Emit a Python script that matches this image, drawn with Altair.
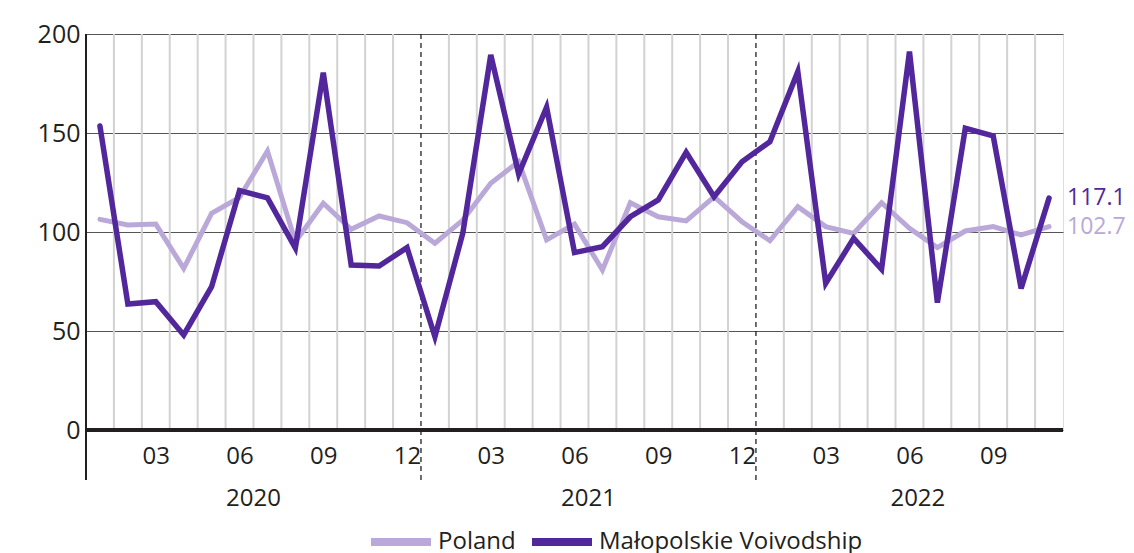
import altair as alt
import pandas as pd

# ---- data ----
months = [f"{y}-{m:02d}" for y in (2020, 2021, 2022) for m in range(1, 13)][:35]
poland = [106.4, 103.5, 104.0, 81.6, 109.4, 117.5, 140.9, 95.1, 114.5, 101.4, 108.1, 104.7,
          94.3, 106.0, 124.6, 135.5, 96.0, 104.0, 80.8, 114.8, 107.7, 105.6, 117.8, 105.2,
          95.6, 112.8, 102.7, 99.3, 114.8, 101.9, 92.1, 100.5, 102.7, 98.5, 102.7]
malopolskie = [153.5, 63.6, 64.8, 48.0, 72.4, 120.9, 117.2, 91.9, 180.5, 83.3, 82.8, 92.1,
               47.1, 99.5, 189.4, 129.3, 163.0, 89.6, 92.6, 107.7, 116.2, 140.2, 117.8, 135.5,
               145.6, 181.0, 74.1, 96.8, 81.2, 191.1, 64.3, 152.4, 148.5, 71.5, 117.1]
series_names = ["Poland", "Małopolskie Voivodship"]
series_colors = ["#b9a8d8", "#52279b"]
shown_months = ["03", "06", "09", "12"]
years = ["2020", "2021", "2022"]
year_centers = [5.5, 17.5, 29.3]
y_ticks = [0, 50, 100, 150, 200]

W, H = 977, 396
DARK = "#231f20"
FONT = "Open Sans"

n = len(months)
idx = list(range(n))
mm = [m[5:] for m in months]
yy = [m[:4] for m in months]

df = pd.DataFrame({
    "i": idx * 2,
    "month": months * 2,
    "value": poland + malopolskie,
    "series": [series_names[0]] * n + [series_names[1]] * n,
})

tick_vals = [i for i in idx if mm[i] in shown_months]
label_expr = "[" + ",".join(f"'{m}'" for m in mm) + "][datum.value]"

bounds = pd.DataFrame({"b": [i + 0.5 for i in idx[:-1]],
                       "yearb": [yy[i] != yy[i + 1] for i in idx[:-1]]})
year_df = pd.DataFrame({"year": years, "pos": year_centers})
end_df = pd.DataFrame({
    "i": [idx[-1], idx[-1]],
    "value": [poland[-1], malopolskie[-1]],
    "series": series_names,
})

xscale = alt.Scale(domain=[-0.5, n - 0.5], nice=False, zero=False)
yscale = alt.Scale(domain=[0, 200], nice=False)
cscale = alt.Scale(domain=series_names, range=series_colors)

base = alt.Chart(df)

x_enc = alt.X("i:Q", scale=xscale, axis=alt.Axis(
    values=tick_vals, labelExpr=label_expr, grid=False, ticks=False, domain=False,
    labelFontSize=24, labelPadding=14, title=None, labelColor=DARK, labelFont=FONT))
y_enc = alt.Y("value:Q", scale=yscale, axis=alt.Axis(
    values=y_ticks, grid=True, gridColor="#555555", gridWidth=1, domain=False, ticks=False,
    labelFontSize=25, labelPadding=6, title=None, labelColor=DARK, labelFont=FONT))

month_rules = alt.Chart(bounds).transform_filter("!datum.yearb").mark_rule(
    color="#d2d2d2", strokeWidth=2).encode(
    x=alt.X("b:Q", scale=xscale), y=alt.value(0), y2=alt.value(H))

year_rules = alt.Chart(bounds).transform_filter("datum.yearb").mark_rule(
    color=DARK, strokeWidth=1.3, strokeDash=[5, 4]).encode(
    x=alt.X("b:Q", scale=xscale), y=alt.value(0), y2=alt.value(H + 50))

left_line = alt.Chart(bounds).mark_rule(color=DARK, strokeWidth=1.5).encode(
    x=alt.value(0), y=alt.value(0), y2=alt.value(H + 50))

zero_line = alt.Chart(pd.DataFrame({"v": [0]})).mark_rule(color=DARK, strokeWidth=4).encode(
    y=alt.Y("v:Q", scale=yscale), x=alt.value(0), x2=alt.value(W))

legend = alt.Legend(
    orient="none", legendX=281, legendY=474, direction="horizontal", title=None,
    symbolType="stroke", symbolStrokeWidth=8, symbolSize=3600, labelFontSize=24,
    labelFont=FONT, labelColor=DARK, columnPadding=0, labelOffset=3, padding=0,
    labelLimit=0, symbolOpacity=1)

poland_line = base.transform_filter(alt.datum.series == series_names[0]).mark_line(
    strokeWidth=5, strokeCap="round").encode(
    x=x_enc, y=y_enc,
    color=alt.Color("series:N", scale=cscale, legend=legend))

malo_line = base.transform_filter(alt.datum.series == series_names[1]).mark_line(
    strokeWidth=5.5, strokeCap="round").encode(
    x=alt.X("i:Q", scale=xscale), y=alt.Y("value:Q", scale=yscale),
    color=alt.Color("series:N", scale=cscale, legend=legend))

end_labels = alt.Chart(end_df).mark_text(
    align="left", baseline="middle", dx=18, fontSize=23, font=FONT).encode(
    x=alt.X("i:Q", scale=xscale), y=alt.Y("value:Q", scale=yscale),
    text=alt.Text("value:Q", format=".1f"),
    color=alt.Color("series:N", scale=cscale, legend=None))

year_labels = alt.Chart(year_df).mark_text(
    align="center", baseline="middle", fontSize=24, font=FONT, color=DARK).encode(
    x=alt.X("pos:Q", scale=xscale), y=alt.value(H + 69), text="year:N")

chart = alt.layer(
    month_rules, year_rules, zero_line, left_line, poland_line, malo_line, end_labels, year_labels
).properties(
    width=W, height=H,
    autosize=alt.AutoSizeParams(type="none"),
    padding={"left": 78, "top": 26, "right": 63, "bottom": 123},
).configure_view(stroke=None).configure(font=FONT)

chart.save("out.html", embed_options={"renderer": "svg", "actions": False})
